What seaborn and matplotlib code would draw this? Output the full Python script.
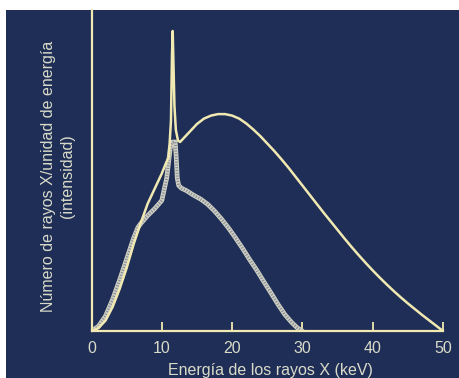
import matplotlib
matplotlib.use("Agg")
import matplotlib.pyplot as plt
import seaborn as sns
import pandas as pd
from matplotlib.patches import Rectangle

# ---- data ----
energy_50kv = [0, 1, 2, 3, 4, 5, 6, 7, 8, 9, 10, 10.6, 11.0, 11.3, 11.45, 11.55, 11.65,
               11.8, 12.0, 12.3, 12.6, 13.2, 14, 15, 16, 17, 18, 19, 20, 21, 22, 23, 24,
               25, 26, 27, 28, 29, 30, 31, 32, 33, 34, 35, 36, 37, 38, 39, 40, 41, 42, 43,
               44, 45, 46, 47, 48, 49, 50]
intensity_50kv = [0, 1, 3.5, 8, 14, 21, 29, 36, 42.5, 47.5, 52.5, 56, 58, 70, 92, 100, 90,
                  75, 67, 63.5, 63, 64.5, 66.5, 69, 70.8, 71.8, 72.3, 72.3, 71.8, 70.8, 69.2,
                  67.2, 65, 62.5, 60, 57.3, 54.5, 51.5, 48.5, 45.5, 42.5, 39.5, 36.6, 33.7,
                  30.8, 28, 25.3, 22.7, 20.2, 17.8, 15.5, 13.3, 11.2, 9.2, 7.3, 5.4, 3.6,
                  1.8, 0]

energy_30kv = [0, 1, 2, 3, 4, 5, 6, 6.6, 7, 8, 9, 10, 10.7, 11.2, 11.5, 11.9, 12.05, 12.2,
               12.4, 12.8, 13.5, 14.5, 15.5, 16.5, 17.5, 18.5, 19.5, 20.5, 21.5, 22.5,
               23.5, 24.5, 25.5, 26.5, 27.5, 28.5, 29.3, 30]
intensity_30kv = [0, 1.6, 5, 10.5, 17, 24, 31, 34.5, 35.8, 38.5, 40.8, 43.5, 51, 61, 63,
                  63, 58, 51, 48.5, 47.6, 46.8, 45.3, 44, 42.3, 40, 37.3, 34.3, 31, 27.5,
                  23.8, 20.3, 16.5, 12.8, 9, 5.5, 2.8, 1, 0]

x_ticks = [0, 10, 20, 30, 40, 50]
x_label = "Energía de los rayos X (keV)"
y_label = "Número de rayos X/unidad de energía\n(intensidad)"

df50 = pd.DataFrame({"energy": energy_50kv, "intensity": intensity_50kv})
df30 = pd.DataFrame({"energy": energy_30kv, "intensity": intensity_30kv})

# ---- style ----
sns.set_theme(style="white")
plt.rcParams["font.family"] = ["Liberation Sans", "DejaVu Sans"]

navy = "#1f2e56"
cream = "#f1e9b2"
text_col = "#d9dbc9"

fig = plt.figure(figsize=(4.59, 3.78), dpi=100, facecolor="white")
fig.patches.append(Rectangle((6 / 459, 0), 1, 368 / 378, transform=fig.transFigure,
                             facecolor=navy, edgecolor="none", zorder=-10))

ax = fig.add_axes([91.5 / 459, 47 / 378, (443 - 91.5) / 459, (331 - 10) / 378])
ax.set_facecolor("none")

# hatched curve (lower)
sns.lineplot(data=df30, x="energy", y="intensity", ax=ax, color="#cfd0c2",
             linewidth=3.4, sort=False, estimator=None)
sns.lineplot(data=df30, x="energy", y="intensity", ax=ax, color="#868b99",
             linewidth=2.0, sort=False, estimator=None, dashes=False)
ax.lines[-1].set_dashes((0.4, 0.6))
# solid curve (upper)
sns.lineplot(data=df50, x="energy", y="intensity", ax=ax, color=cream,
             linewidth=1.8, sort=False, estimator=None)

ax.set_xlim(0, 50)
ax.set_ylim(0, 107)
ax.set_xticks(x_ticks)
ax.set_xticklabels([str(t) for t in x_ticks])
ax.set_yticks([])
ax.tick_params(axis="x", direction="in", length=6.5, width=1.3, color=cream,
               labelcolor=text_col, labelsize=11.5, pad=7, bottom=True)
for side in ["top", "right"]:
    ax.spines[side].set_visible(False)
for side in ["left", "bottom"]:
    ax.spines[side].set_color(cream)
    ax.spines[side].set_linewidth(1.6)
ax.spines["bottom"].set_zorder(5)
ax.set_xlabel("")
ax.set_ylabel("")

fig.text(270 / 459, 1 - 363 / 378, x_label, ha="center", va="top",
         color=text_col, fontsize=11.5)
fig.text(58 / 459, 1 - 176 / 378, y_label, ha="center", va="center",
         rotation=90, color=text_col, fontsize=11.5, linespacing=1.3,
         multialignment="center")

fig.savefig("out.png", dpi=100, facecolor="white")
